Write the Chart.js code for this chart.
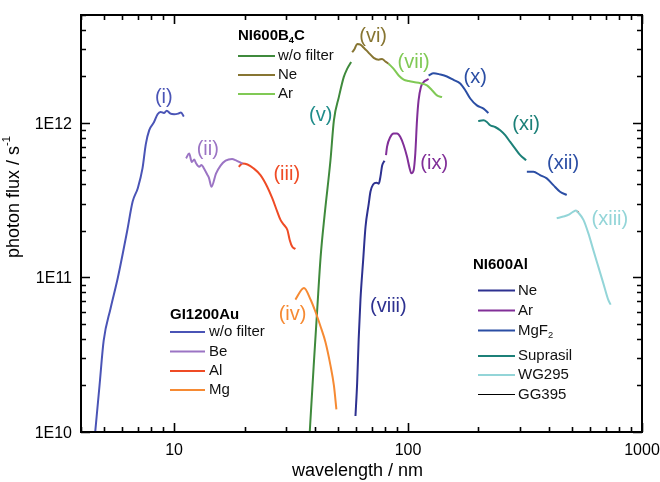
<!DOCTYPE html>
<html>
<head>
<meta charset="utf-8">
<script src="https://cdn.jsdelivr.net/npm/chart.js@4/dist/chart.umd.min.js"></script>
<style>
html,body{margin:0;padding:0;background:#fff;}
#wrap{width:660px;height:482px;position:relative;}
</style>
</head>
<body>
<div id="wrap"><canvas id="c" width="660" height="482"></canvas></div>
<script>
// ---------- data ----------
const xTickValues = [10, 100, 1000];
const xTickLabels = ['10', '100', '1000'];
const yTickValues = [1e10, 1e11, 1e12];
const yTickLabels = ['1E10', '1E11', '1E12'];

// GI1200Au
const giWoX = [4.6, 4.8, 5.0, 5.35, 5.75, 6.3, 6.65, 7.0, 7.33, 7.57, 7.83, 8.2, 8.5, 8.75, 9.05, 9.3, 9.65, 10.0, 10.4, 10.7, 11.0];
const giWoY = [1.0e10, 2.0e10, 3.9e10, 6.3e10, 1.0e11, 2.0e11, 3.1e11, 3.8e11, 5.1e11, 7.3e11, 9.0e11, 1.01e12, 1.14e12, 1.18e12, 1.16e12, 1.2e12, 1.15e12, 1.14e12, 1.15e12, 1.17e12, 1.1e12];
const giBeX = [11.25, 11.6, 11.9, 12.2, 12.4, 12.8, 13.1, 13.4, 13.9, 14.1, 14.45, 15.1, 15.8, 16.6, 17.7, 18.3, 19.6];
const giBeY = [5.9e11, 6.35e11, 5.6e11, 5.8e11, 5.5e11, 5.2e11, 5.35e11, 5.1e11, 4.6e11, 4.4e11, 3.87e11, 4.7e11, 5.3e11, 5.7e11, 5.85e11, 5.75e11, 5.45e11];
const giAlX = [18.9, 19.6, 20.6, 21.9, 23.4, 25.0, 26.3, 27.6, 28.5, 29.5, 30.5, 31.2, 32.0, 33.0];
const giAlY = [5.2e11, 5.47e11, 5.39e11, 5.08e11, 4.6e11, 3.87e11, 3.25e11, 2.67e11, 2.36e11, 2.19e11, 2.03e11, 1.75e11, 1.58e11, 1.53e11];
const giMgX = [33.0, 35.9, 38.3, 40.2, 42.3, 44.4, 46.6, 48.2, 49.4];
const giMgY = [7.2e10, 8.55e10, 7.2e10, 6.0e10, 4.8e10, 3.8e10, 2.7e10, 2.0e10, 1.4e10];

// NI600B4C
const b4WoX = [38.0, 39.5, 40.9, 42.3, 44.0, 46.6, 48.2, 50.6, 53.1, 54.9, 57.1];
const b4WoY = [1.0e10, 2.67e10, 6.2e10, 1.36e11, 2.55e11, 5.74e11, 1.04e12, 1.47e12, 1.98e12, 2.24e12, 2.48e12];
const b4NeX = [57.7, 59.0, 60.6, 62.6, 64.3, 66.4, 68.6, 71.3, 74.9, 77.4, 80.0, 82.6];
const b4NeY = [2.87e12, 3.0e12, 3.25e12, 3.22e12, 3.09e12, 2.95e12, 2.8e12, 2.64e12, 2.57e12, 2.6e12, 2.5e12, 2.42e12];
const b4ArX = [82.6, 86.8, 91.2, 95.8, 100.6, 105.7, 112.9, 120.5, 126.6, 132.9, 139.7];
const b4ArY = [2.42e12, 2.24e12, 2.03e12, 1.91e12, 1.87e12, 1.84e12, 1.81e12, 1.75e12, 1.63e12, 1.51e12, 1.47e12];

// NI600Al
const alNeX = [59.6, 60.6, 61.5, 62.6, 64.3, 65.8, 67.9, 69.1, 70.9, 73.3, 75.0, 76.2, 77.5, 79.3];
const alNeY = [1.27e10, 2.08e10, 3.96e10, 7.18e10, 1.3e11, 2.13e11, 3.0e11, 3.6e11, 4.0e11, 4.1e11, 4.05e11, 4.5e11, 5.3e11, 5.7e11];
const alArX = [80.5, 81.3, 84.0, 86.8, 89.7, 92.7, 95.8, 99.0, 101.6, 103.3, 105.7, 107.4, 109.2, 110.9, 113.5, 116.6, 120.5, 122.4];
const alArY = [6.2e11, 7.0e11, 8.12e11, 8.55e11, 8.55e11, 8.12e11, 7.18e11, 6.04e11, 5.08e11, 4.72e11, 4.96e11, 6.35e11, 1.04e12, 1.4e12, 1.71e12, 1.84e12, 1.9e12, 1.93e12];
const alMgfX = [122.4, 128.6, 137.3, 146.6, 156.5, 167.1, 175.6, 184.4, 196.9, 210.2, 220.6];
const alMgfY = [2.03e12, 2.1e12, 2.06e12, 2.0e12, 1.9e12, 1.8e12, 1.63e12, 1.44e12, 1.3e12, 1.24e12, 1.16e12];
const alSupX = [199.5, 210.2, 217.2, 224.4, 235.6, 247.6, 260.2, 273.3, 287.1, 301.6, 319.8];
const alSupY = [1.03e12, 1.04e12, 1.015e12, 9.67e11, 9.42e11, 8.97e11, 8.34e11, 7.54e11, 6.83e11, 6.19e11, 5.74e11];
const alXiiX = [322, 343.5, 366.7, 391.7, 417.9, 446.3, 476.6];
const alXiiY = [4.83e11, 4.83e11, 4.6e11, 4.38e11, 3.96e11, 3.59e11, 3.42e11];
const alWgX = [432, 461, 484, 509, 522, 534, 562, 590, 619, 650, 683, 717, 735];
const alWgY = [2.42e11, 2.48e11, 2.54e11, 2.67e11, 2.71e11, 2.63e11, 2.36e11, 1.93e11, 1.51e11, 1.18e11, 9.2e10, 7.18e10, 6.67e10];
const redDotX = [528, 536];
const redDotY = [2.68e11, 2.64e11];

// curve labels
const curveLabels = ['(i)', '(ii)', '(iii)', '(iv)', '(v)', '(vi)', '(vii)', '(viii)', '(ix)', '(x)', '(xi)', '(xii)', '(xiii)'];
const curveLabelX = [9.04, 13.93, 30.3, 32.1, 42.3, 70.9, 105.7, 82.4, 129.4, 193.6, 319.7, 460, 729];
const curveLabelY = [1.46e12, 6.76e11, 4.67e11, 5.74e10, 1.12e12, 3.62e12, 2.48e12, 6.5e10, 5.5e11, 1.97e12, 9.8e11, 5.5e11, 2.36e11];

// ---------- styles ----------
const C = {
  giWo: '#4a54b6', giBe: '#9b74c4', giAl: '#ef4b25', giMg: '#f68a33',
  b4Wo: '#3f8a3c', b4Ne: '#877532', b4Ar: '#80c955',
  alNe: '#2d3190', alAr: '#812f98', alMgf: '#2b4ea4', alSup: '#1c8078', alWg: '#93d5d8', alGg: '#000000'
};
const labelColors = [C.giWo, C.giBe, C.giAl, C.giMg, '#208c8a', C.b4Ne, C.b4Ar, C.alNe, C.alAr, C.alMgf, C.alSup, C.alMgf, C.alWg];

function pts(xs, ys){ return xs.map((x,i)=>({x:x, y:ys[i]})); }
function ds(xs, ys, color, w){
  return {data: pts(xs, ys), borderColor: color, backgroundColor: color, borderWidth: w || 2,
          pointRadius: 0, cubicInterpolationMode: 'monotone', fill: false};
}

const FONT = "'Liberation Sans', Arial, Helvetica, sans-serif";

function drawRich(ctx, x, y, parts, size, bold){
  let cx = x;
  for (const p of parts){
    const s = p.sub || p.sup ? size*0.62 : size;
    ctx.font = (bold ? 'bold ' : '') + s + 'px ' + FONT;
    const dy = p.sub ? size*0.3 : (p.sup ? -size*0.38 : 0);
    ctx.fillText(p.t, cx, y + dy);
    cx += ctx.measureText(p.t).width;
  }
  return cx - x;
}
function richWidth(ctx, parts, size, bold){
  let w = 0;
  for (const p of parts){
    const s = p.sub || p.sup ? size*0.62 : size;
    ctx.font = (bold ? 'bold ' : '') + s + 'px ' + FONT;
    w += ctx.measureText(p.t).width;
  }
  return w;
}

const legends = [
  {title:[{t:'NI600B'},{t:'4',sub:true},{t:'C'}], tx:238, ty:36, lx0:238, lx1:275, textX:278,
   items:[{parts:[{t:'w/o filter'}], color:C.b4Wo, y:56},{parts:[{t:'Ne'}], color:C.b4Ne, y:75},{parts:[{t:'Ar'}], color:C.b4Ar, y:94}]},
  {title:[{t:'GI1200Au'}], tx:170, ty:315, lx0:170, lx1:205, textX:209,
   items:[{parts:[{t:'w/o filter'}], color:C.giWo, y:332},{parts:[{t:'Be'}], color:C.giBe, y:351.5},{parts:[{t:'Al'}], color:C.giAl, y:371},{parts:[{t:'Mg'}], color:C.giMg, y:390}]},
  {title:[{t:'NI600Al'}], tx:473, ty:265, lx0:478, lx1:515, textX:518,
   items:[{parts:[{t:'Ne'}], color:C.alNe, y:290.5},{parts:[{t:'Ar'}], color:C.alAr, y:310.5},{parts:[{t:'MgF'},{t:'2',sub:true}], color:C.alMgf, y:330.5},
          {parts:[{t:'Suprasil'}], color:C.alSup, y:356},{parts:[{t:'WG295'}], color:C.alWg, y:375},{parts:[{t:'GG395'}], color:C.alGg, y:394.5, w:1}]}
];

const decor = {
  id: 'decor',
  afterDraw(chart){
    const {ctx, chartArea:a, scales:{x, y}} = chart;
    ctx.save();
    // frame
    ctx.strokeStyle = '#000'; ctx.lineWidth = 2;
    ctx.strokeRect(a.left, a.top, a.right - a.left, a.bottom - a.top);
    // ticks (inward on all four sides)
    ctx.lineWidth = 1.6;
    ctx.beginPath();
    for (let e = 0; e <= 3; e++){
      for (let m = 1; m <= 9; m++){
        const v = m * Math.pow(10, e);
        if (v < x.min - 1e-9 || v > x.max + 1e-9) continue;
        const px = Math.round(x.getPixelForValue(v)) + 0.5;
        const len = m === 1 ? 9 : 5;
        ctx.moveTo(px, a.bottom); ctx.lineTo(px, a.bottom - len);
        ctx.moveTo(px, a.top); ctx.lineTo(px, a.top + len);
      }
    }
    for (let e = 10; e <= 12; e++){
      for (let m = 1; m <= 9; m++){
        const v = m * Math.pow(10, e);
        if (v < y.min * 0.999 || v > y.max * 1.001) continue;
        const py = Math.round(y.getPixelForValue(v)) + 0.5;
        const len = m === 1 ? 9 : 5;
        ctx.moveTo(a.left, py); ctx.lineTo(a.left + len, py);
        ctx.moveTo(a.right, py); ctx.lineTo(a.right - len, py);
      }
    }
    ctx.stroke();

    // tick labels
    ctx.fillStyle = '#000';
    ctx.font = '16px ' + FONT;
    ctx.textAlign = 'center'; ctx.textBaseline = 'alphabetic';
    xTickValues.forEach((v, i) => ctx.fillText(xTickLabels[i], x.getPixelForValue(v), a.bottom + 23));
    ctx.textAlign = 'right';
    yTickValues.forEach((v, i) => ctx.fillText(yTickLabels[i], a.left - 9, y.getPixelForValue(v) + 6));

    // axis titles
    ctx.textBaseline = 'middle';
    ctx.textAlign = 'center';
    ctx.font = '18px ' + FONT;
    ctx.fillText('wavelength / nm', 357.5, 471);
    const yt = [{t:'photon flux / s'},{t:'-1',sup:true}];
    ctx.save();
    ctx.translate(14, 197);
    ctx.rotate(-Math.PI/2);
    ctx.textAlign = 'left';
    const w = richWidth(ctx, yt, 18, false);
    drawRich(ctx, -w/2, 0, yt, 18, false);
    ctx.restore();

    // curve labels
    ctx.textAlign = 'center';
    ctx.font = '20px ' + FONT;
    curveLabels.forEach((t, i) => {
      ctx.fillStyle = labelColors[i];
      ctx.fillText(t, x.getPixelForValue(curveLabelX[i]), y.getPixelForValue(curveLabelY[i]));
    });

    // legends
    ctx.textAlign = 'left';
    for (const L of legends){
      ctx.fillStyle = '#000';
      drawRich(ctx, L.tx, L.ty, L.title, 15, true);
      for (const it of L.items){
        ctx.strokeStyle = it.color; ctx.lineWidth = it.w || 2;
        ctx.beginPath(); ctx.moveTo(L.lx0, it.y); ctx.lineTo(L.lx1, it.y); ctx.stroke();
        ctx.fillStyle = '#111';
        drawRich(ctx, L.textX, it.y, it.parts, 15, false);
      }
    }
    ctx.restore();
  }
};

new Chart(document.getElementById('c'), {
  type: 'line',
  data: {
    datasets: [
      ds(giWoX, giWoY, C.giWo), ds(giBeX, giBeY, C.giBe), ds(giAlX, giAlY, C.giAl), ds(giMgX, giMgY, C.giMg),
      ds(b4WoX, b4WoY, C.b4Wo), ds(b4NeX, b4NeY, C.b4Ne), ds(b4ArX, b4ArY, C.b4Ar),
      ds(alNeX, alNeY, C.alNe), ds(alArX, alArY, C.alAr), ds(alMgfX, alMgfY, C.alMgf), ds(alSupX, alSupY, C.alSup),
      ds(alXiiX, alXiiY, C.alMgf), ds(alWgX, alWgY, C.alWg), ds(redDotX, redDotY, '#e8402a')
    ]
  },
  options: {
    responsive: false,
    animation: false,
    devicePixelRatio: 1,
    layout: {padding: {left: 0, right: 18, top: 15, bottom: 0}},
    plugins: {legend: {display: false}, tooltip: {enabled: false}},
    scales: {
      x: {
        type: 'logarithmic', min: 4, max: 1000,
        grid: {display: false}, border: {display: false},
        afterBuildTicks: s => { s.ticks = xTickValues.map(v => ({value: v})); },
        afterFit: s => { s.height = 50; },
        ticks: {display: false}
      },
      y: {
        type: 'logarithmic', min: 1e10, max: 5e12,
        grid: {display: false}, border: {display: false},
        afterBuildTicks: s => { s.ticks = yTickValues.map(v => ({value: v})); },
        afterFit: s => { s.width = 81; },
        ticks: {display: false}
      }
    }
  },
  plugins: [decor]
});
</script>
</body>
</html>
